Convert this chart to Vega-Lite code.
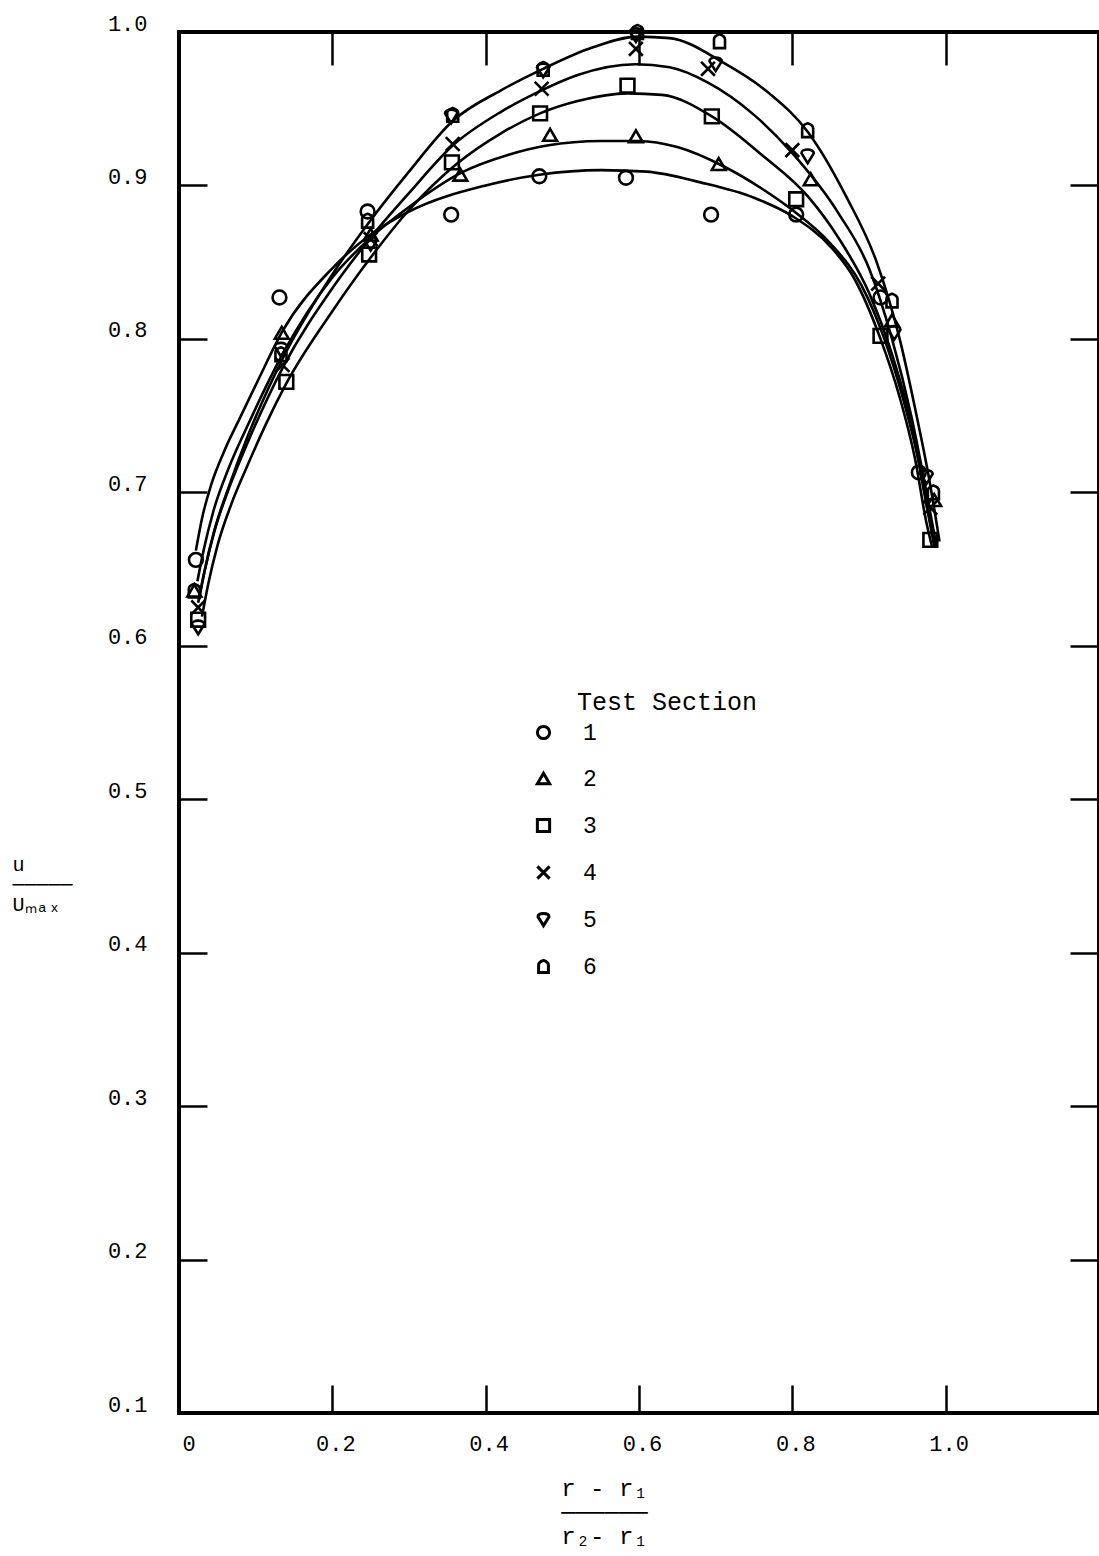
{
  "$schema": "https://vega.github.io/schema/vega-lite/v6.json",
  "width": 920,
  "height": 1381,
  "autosize": "none",
  "padding": {"left": 179, "top": 32, "right": 0, "bottom": 143},
  "background": "white",
  "datasets": {
    "points": [
      {"section": "1", "x": 0.022, "y": 0.656}, {"section": "1", "x": 0.131, "y": 0.827}, {"section": "1", "x": 0.246, "y": 0.883}, {"section": "1", "x": 0.355, "y": 0.881}, {"section": "1", "x": 0.470, "y": 0.906}, {"section": "1", "x": 0.583, "y": 0.905}, {"section": "1", "x": 0.694, "y": 0.881}, {"section": "1", "x": 0.805, "y": 0.881}, {"section": "1", "x": 0.915, "y": 0.827}, {"section": "1", "x": 0.965, "y": 0.713},
      {"section": "2", "x": 0.020, "y": 0.636}, {"section": "2", "x": 0.134, "y": 0.804}, {"section": "2", "x": 0.250, "y": 0.868}, {"section": "2", "x": 0.367, "y": 0.907}, {"section": "2", "x": 0.484, "y": 0.933}, {"section": "2", "x": 0.596, "y": 0.932}, {"section": "2", "x": 0.704, "y": 0.914}, {"section": "2", "x": 0.824, "y": 0.904}, {"section": "2", "x": 0.930, "y": 0.812}, {"section": "2", "x": 0.985, "y": 0.695},
      {"section": "3", "x": 0.025, "y": 0.617}, {"section": "3", "x": 0.140, "y": 0.772}, {"section": "3", "x": 0.248, "y": 0.855}, {"section": "3", "x": 0.356, "y": 0.915}, {"section": "3", "x": 0.471, "y": 0.947}, {"section": "3", "x": 0.585, "y": 0.965}, {"section": "3", "x": 0.695, "y": 0.945}, {"section": "3", "x": 0.805, "y": 0.891}, {"section": "3", "x": 0.915, "y": 0.802}, {"section": "3", "x": 0.980, "y": 0.669},
      {"section": "4", "x": 0.025, "y": 0.625}, {"section": "4", "x": 0.135, "y": 0.783}, {"section": "4", "x": 0.250, "y": 0.865}, {"section": "4", "x": 0.357, "y": 0.927}, {"section": "4", "x": 0.473, "y": 0.963}, {"section": "4", "x": 0.596, "y": 0.989}, {"section": "4", "x": 0.690, "y": 0.976}, {"section": "4", "x": 0.800, "y": 0.923}, {"section": "4", "x": 0.912, "y": 0.836}, {"section": "4", "x": 0.980, "y": 0.690},
      {"section": "5", "x": 0.025, "y": 0.612}, {"section": "5", "x": 0.133, "y": 0.793}, {"section": "5", "x": 0.250, "y": 0.862}, {"section": "5", "x": 0.355, "y": 0.945}, {"section": "5", "x": 0.475, "y": 0.975}, {"section": "5", "x": 0.596, "y": 0.998}, {"section": "5", "x": 0.700, "y": 0.979}, {"section": "5", "x": 0.820, "y": 0.919}, {"section": "5", "x": 0.933, "y": 0.804}, {"section": "5", "x": 0.975, "y": 0.710},
      {"section": "6", "x": 0.020, "y": 0.636}, {"section": "6", "x": 0.133, "y": 0.790}, {"section": "6", "x": 0.246, "y": 0.877}, {"section": "6", "x": 0.357, "y": 0.946}, {"section": "6", "x": 0.475, "y": 0.976}, {"section": "6", "x": 0.598, "y": 1.000}, {"section": "6", "x": 0.705, "y": 0.994}, {"section": "6", "x": 0.820, "y": 0.936}, {"section": "6", "x": 0.930, "y": 0.825}, {"section": "6", "x": 0.984, "y": 0.700}
    ],
    "curves": [
      {"curve": "1", "x": 0.022, "y": 0.662}, {"curve": "1", "x": 0.03, "y": 0.683}, {"curve": "1", "x": 0.042, "y": 0.705}, {"curve": "1", "x": 0.06, "y": 0.728}, {"curve": "1", "x": 0.08, "y": 0.749}, {"curve": "1", "x": 0.105, "y": 0.775}, {"curve": "1", "x": 0.135, "y": 0.805}, {"curve": "1", "x": 0.2, "y": 0.846}, {"curve": "1", "x": 0.25, "y": 0.868}, {"curve": "1", "x": 0.3, "y": 0.883}, {"curve": "1", "x": 0.4, "y": 0.9}, {"curve": "1", "x": 0.47, "y": 0.907}, {"curve": "1", "x": 0.55, "y": 0.91}, {"curve": "1", "x": 0.61, "y": 0.909}, {"curve": "1", "x": 0.68, "y": 0.902}, {"curve": "1", "x": 0.75, "y": 0.892}, {"curve": "1", "x": 0.8, "y": 0.88}, {"curve": "1", "x": 0.85, "y": 0.86}, {"curve": "1", "x": 0.88, "y": 0.84}, {"curve": "1", "x": 0.915, "y": 0.8}, {"curve": "1", "x": 0.94, "y": 0.762}, {"curve": "1", "x": 0.96, "y": 0.722}, {"curve": "1", "x": 0.975, "y": 0.68}, {"curve": "1", "x": 0.982, "y": 0.665},
      {"curve": "2", "x": 0.024, "y": 0.642}, {"curve": "2", "x": 0.032, "y": 0.662}, {"curve": "2", "x": 0.045, "y": 0.688}, {"curve": "2", "x": 0.065, "y": 0.716}, {"curve": "2", "x": 0.09, "y": 0.744}, {"curve": "2", "x": 0.135, "y": 0.79}, {"curve": "2", "x": 0.2, "y": 0.84}, {"curve": "2", "x": 0.25, "y": 0.866}, {"curve": "2", "x": 0.3, "y": 0.886}, {"curve": "2", "x": 0.367, "y": 0.908}, {"curve": "2", "x": 0.43, "y": 0.92}, {"curve": "2", "x": 0.48, "y": 0.926}, {"curve": "2", "x": 0.55, "y": 0.929}, {"curve": "2", "x": 0.6, "y": 0.929}, {"curve": "2", "x": 0.65, "y": 0.925}, {"curve": "2", "x": 0.712, "y": 0.912}, {"curve": "2", "x": 0.76, "y": 0.898}, {"curve": "2", "x": 0.8, "y": 0.884}, {"curve": "2", "x": 0.85, "y": 0.862}, {"curve": "2", "x": 0.89, "y": 0.835}, {"curve": "2", "x": 0.92, "y": 0.8}, {"curve": "2", "x": 0.945, "y": 0.76}, {"curve": "2", "x": 0.965, "y": 0.72}, {"curve": "2", "x": 0.98, "y": 0.68}, {"curve": "2", "x": 0.987, "y": 0.665},
      {"curve": "3", "x": 0.03, "y": 0.619}, {"curve": "3", "x": 0.038, "y": 0.64}, {"curve": "3", "x": 0.05, "y": 0.665}, {"curve": "3", "x": 0.068, "y": 0.692}, {"curve": "3", "x": 0.088, "y": 0.716}, {"curve": "3", "x": 0.112, "y": 0.743}, {"curve": "3", "x": 0.14, "y": 0.771}, {"curve": "3", "x": 0.2, "y": 0.818}, {"curve": "3", "x": 0.25, "y": 0.853}, {"curve": "3", "x": 0.3, "y": 0.884}, {"curve": "3", "x": 0.362, "y": 0.914}, {"curve": "3", "x": 0.42, "y": 0.934}, {"curve": "3", "x": 0.471, "y": 0.947}, {"curve": "3", "x": 0.52, "y": 0.955}, {"curve": "3", "x": 0.585, "y": 0.96}, {"curve": "3", "x": 0.63, "y": 0.959}, {"curve": "3", "x": 0.695, "y": 0.945}, {"curve": "3", "x": 0.76, "y": 0.92}, {"curve": "3", "x": 0.82, "y": 0.893}, {"curve": "3", "x": 0.86, "y": 0.866}, {"curve": "3", "x": 0.9, "y": 0.83}, {"curve": "3", "x": 0.93, "y": 0.79}, {"curve": "3", "x": 0.955, "y": 0.745}, {"curve": "3", "x": 0.972, "y": 0.7}, {"curve": "3", "x": 0.985, "y": 0.665},
      {"curve": "4", "x": 0.026, "y": 0.63}, {"curve": "4", "x": 0.034, "y": 0.65}, {"curve": "4", "x": 0.047, "y": 0.676}, {"curve": "4", "x": 0.067, "y": 0.705}, {"curve": "4", "x": 0.09, "y": 0.733}, {"curve": "4", "x": 0.135, "y": 0.781}, {"curve": "4", "x": 0.2, "y": 0.833}, {"curve": "4", "x": 0.25, "y": 0.866}, {"curve": "4", "x": 0.3, "y": 0.895}, {"curve": "4", "x": 0.357, "y": 0.926}, {"curve": "4", "x": 0.42, "y": 0.948}, {"curve": "4", "x": 0.473, "y": 0.962}, {"curve": "4", "x": 0.52, "y": 0.972}, {"curve": "4", "x": 0.595, "y": 0.979}, {"curve": "4", "x": 0.64, "y": 0.977}, {"curve": "4", "x": 0.69, "y": 0.967}, {"curve": "4", "x": 0.75, "y": 0.946}, {"curve": "4", "x": 0.8, "y": 0.921}, {"curve": "4", "x": 0.86, "y": 0.882}, {"curve": "4", "x": 0.9, "y": 0.846}, {"curve": "4", "x": 0.93, "y": 0.8}, {"curve": "4", "x": 0.955, "y": 0.75}, {"curve": "4", "x": 0.975, "y": 0.7}, {"curve": "4", "x": 0.988, "y": 0.665},
      {"curve": "5-6", "x": 0.025, "y": 0.628}, {"curve": "5-6", "x": 0.033, "y": 0.648}, {"curve": "5-6", "x": 0.046, "y": 0.675}, {"curve": "5-6", "x": 0.066, "y": 0.705}, {"curve": "5-6", "x": 0.09, "y": 0.737}, {"curve": "5-6", "x": 0.135, "y": 0.787}, {"curve": "5-6", "x": 0.2, "y": 0.842}, {"curve": "5-6", "x": 0.248, "y": 0.876}, {"curve": "5-6", "x": 0.3, "y": 0.909}, {"curve": "5-6", "x": 0.357, "y": 0.942}, {"curve": "5-6", "x": 0.42, "y": 0.962}, {"curve": "5-6", "x": 0.475, "y": 0.976}, {"curve": "5-6", "x": 0.54, "y": 0.99}, {"curve": "5-6", "x": 0.598, "y": 0.997}, {"curve": "5-6", "x": 0.64, "y": 0.996}, {"curve": "5-6", "x": 0.71, "y": 0.98}, {"curve": "5-6", "x": 0.77, "y": 0.96}, {"curve": "5-6", "x": 0.82, "y": 0.935}, {"curve": "5-6", "x": 0.87, "y": 0.893}, {"curve": "5-6", "x": 0.91, "y": 0.85}, {"curve": "5-6", "x": 0.94, "y": 0.8}, {"curve": "5-6", "x": 0.96, "y": 0.755}, {"curve": "5-6", "x": 0.978, "y": 0.71}, {"curve": "5-6", "x": 0.992, "y": 0.668}
    ]
  },
  "layer": [
    {
      "data": {"name": "curves"},
      "mark": {"type": "line", "interpolate": "monotone", "color": "black", "strokeWidth": 2.6},
      "encoding": {
        "x": {
          "field": "x", "type": "quantitative",
          "scale": {"domain": [0, 1.2], "nice": false, "zero": false},
          "axis": {
            "orient": "bottom", "values": [0, 0.2, 0.4, 0.6, 0.8, 1.0],
            "labelExpr": "datum.value == 0 ? '0' : format(datum.value, '.1f')",
            "tickSize": -28, "tickWidth": 2.5, "tickColor": "black",
            "labelPadding": 48, "labelOffset": 3, "labelFontSize": 22,
            "title": ["r - r₁", "──────", "r₂- r₁"],
            "titleX": 425, "titleY": 82, "titleAlign": "center", "titleBaseline": "alphabetic",
            "titleLineHeight": 24, "titleFontSize": 24
          }
        },
        "y": {
          "field": "y", "type": "quantitative",
          "scale": {"domain": [0.1, 1.0], "nice": false, "zero": false},
          "axis": {
            "orient": "left", "values": [0.1, 0.2, 0.3, 0.4, 0.5, 0.6, 0.7, 0.8, 0.9, 1.0],
            "format": ".1f",
            "tickSize": -28, "tickWidth": 2.5, "tickColor": "black",
            "labelPadding": 60, "labelOffset": -9, "labelFontSize": 22,
            "title": ["u", "─────", "Uₘₐₓ"],
            "titleAngle": 0, "titleX": -167, "titleY": 838, "titleAlign": "left", "titleBaseline": "alphabetic",
            "titleLineHeight": 20, "titleFontSize": 20
          }
        },
        "detail": {"field": "curve"}
      }
    },
    {
      "data": {"name": "points"},
      "mark": {"type": "point", "filled": false, "color": "black", "opacity": 1, "strokeWidth": 2.6, "size": 190},
      "encoding": {
        "x": {
          "field": "x", "type": "quantitative",
          "axis": {"orient": "top", "values": [0.2, 0.4, 0.6, 0.8, 1.0], "labels": false, "tickSize": -33, "tickWidth": 2.5, "tickColor": "black", "title": null}
        },
        "y": {
          "field": "y", "type": "quantitative",
          "axis": {"orient": "right", "values": [0.2, 0.3, 0.4, 0.5, 0.6, 0.7, 0.8, 0.9], "labels": false, "tickSize": -29, "tickWidth": 2.5, "tickColor": "black", "title": null}
        },
        "shape": {
          "field": "section", "type": "nominal",
          "scale": {
            "domain": ["1", "2", "3", "4", "5", "6"],
            "range": [
              "circle",
              "triangle-up",
              "square",
              "M-1,-1L1,1M-1,1L1,-1",
              "M-0.9,-0.45C-0.9,-1.15 0.9,-1.15 0.9,-0.45L0,1Z",
              "M-0.8,1L-0.8,-0.25Q-0.8,-0.75 0,-1Q0.8,-0.75 0.8,-0.25L0.8,1Z"
            ]
          },
          "legend": {
            "orient": "none", "legendX": 353, "legendY": 658,
            "title": "\u200b\u00a0\u00a0\u00a0Test Section",
            "titleFontSize": 25, "titleFontWeight": "normal", "titlePadding": 6, "titleLimit": 500,
            "labelFontSize": 23, "labelOffset": 28,
            "symbolSize": 150, "symbolStrokeWidth": 3,
            "rowPadding": 22, "padding": 0
          }
        }
      }
    }
  ],
  "resolve": {"axis": {"x": "independent", "y": "independent"}},
  "config": {
    "font": "Liberation Mono",
    "view": {"stroke": "black", "strokeWidth": 4},
    "axis": {"grid": false, "domain": false, "labelColor": "black", "titleColor": "black", "titleFontWeight": "normal", "labelFont": "Liberation Mono", "titleFont": "Liberation Mono"},
    "legend": {"labelColor": "black", "titleColor": "black", "labelFont": "Liberation Mono", "titleFont": "Liberation Mono"}
  }
}
